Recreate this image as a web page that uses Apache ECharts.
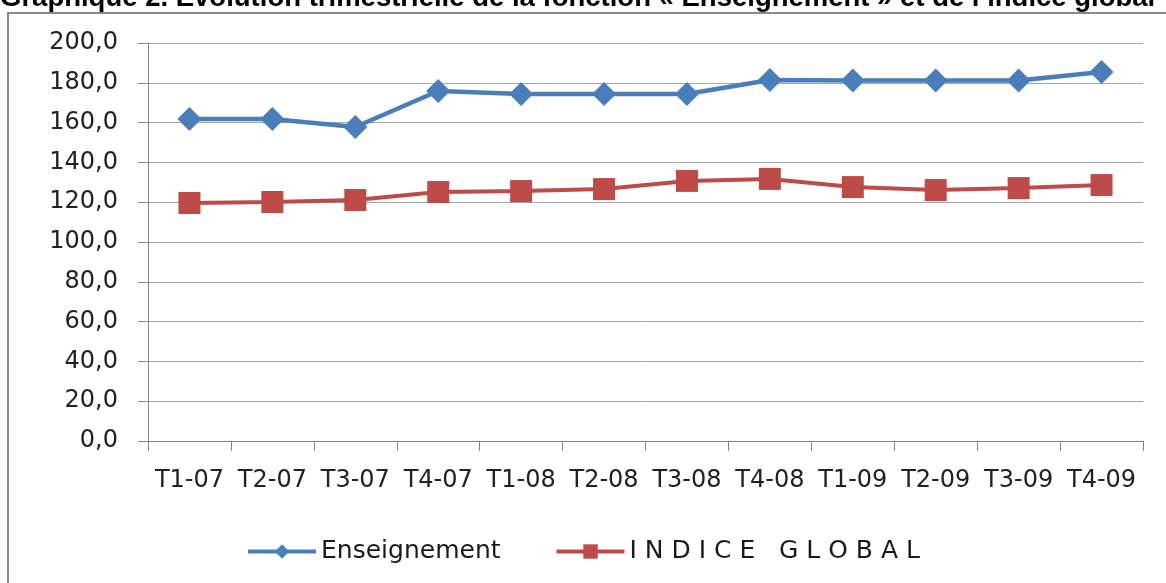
<!DOCTYPE html>
<html>
<head>
<meta charset="utf-8">
<script src="https://cdn.jsdelivr.net/npm/echarts@6/dist/echarts.min.js"></script>
<style>
  html, body { margin: 0; padding: 0; background: #fff; }
  #main { width: 1166px; height: 583px; }
</style>
</head>
<body>
<div id="main"></div>
<script>
// trimestres
var quarters = ['T1-07', 'T2-07', 'T3-07', 'T4-07', 'T1-08', 'T2-08', 'T3-08', 'T4-08', 'T1-09', 'T2-09', 'T3-09', 'T4-09'];
var enseignement = [161.8, 161.8, 157.8, 175.9, 174.4, 174.4, 174.4, 181.4, 181.1, 181.1, 181.1, 185.4];
var indiceGlobal = [119.6, 120.1, 121.1, 125.1, 125.6, 126.6, 130.7, 131.7, 127.6, 126.1, 127.1, 128.6];
var yTicks = { min: 0, max: 200, step: 20 };

var labelFont = '"DejaVu Sans", sans-serif';

var myChart = echarts.init(document.getElementById('main'));
var option = {
  backgroundColor: '#fff',
  animation: false,
  title: {
    text: 'Graphique 2. Evolution trimestrielle de la fonction \u00ab Enseignement \u00bb et de l\u2019indice global',
    left: 0,
    top: -16,
    padding: 0,
    textStyle: { fontFamily: 'Liberation Sans', fontWeight: 'bold', fontSize: 27.5, color: '#000' }
  },
  graphic: [{
    type: 'rect',
    shape: { x: 8, y: 13, width: 1170, height: 580 },
    style: { fill: null, stroke: '#8a8a8a', lineWidth: 2 },
    silent: true
  }],
  grid: { left: 148, right: 23, top: 43, bottom: 142 },
  legend: {
    bottom: 14,
    left: 'center',
    itemWidth: 68,
    itemHeight: 18,
    itemGap: 54,
    lineStyle: { width: 4 },
    textStyle: { fontFamily: labelFont, fontSize: 25, color: '#1a1a1a' },
    data: ['Enseignement', 'I N D I C E   G L O B A L']
  },
  xAxis: {
    type: 'category',
    data: quarters,
    axisLine: { lineStyle: { color: '#868686', width: 1 } },
    axisTick: { show: true, length: 10, lineStyle: { color: '#868686' } },
    axisLabel: { fontFamily: labelFont, fontSize: 24, color: '#222', margin: 28, interval: 0 }
  },
  yAxis: {
    type: 'value',
    min: yTicks.min,
    max: yTicks.max,
    interval: yTicks.step,
    axisLine: { show: true, lineStyle: { color: '#868686', width: 1 } },
    axisTick: { show: true, length: 10, lineStyle: { color: '#868686' } },
    splitLine: { lineStyle: { color: '#a6a6a6', width: 1 } },
    axisLabel: {
      fontFamily: labelFont, fontSize: 24, color: '#222', margin: 30,
      formatter: function (v) { return v.toFixed(1).replace('.', ','); }
    }
  },
  series: [
    {
      name: 'Enseignement',
      type: 'line',
      data: enseignement,
      symbol: 'diamond',
      symbolSize: 24,
      color: '#4a7ebb',
      lineStyle: { width: 4.5, color: '#4a7ebb' },
      itemStyle: { color: '#4a7ebb' }
    },
    {
      name: 'I N D I C E   G L O B A L',
      type: 'line',
      data: indiceGlobal,
      symbol: 'rect',
      symbolSize: 22,
      color: '#be4b48',
      lineStyle: { width: 4, color: '#be4b48' },
      itemStyle: { color: '#be4b48' }
    }
  ]
};
myChart.setOption(option, true);
</script>
</body>
</html>
